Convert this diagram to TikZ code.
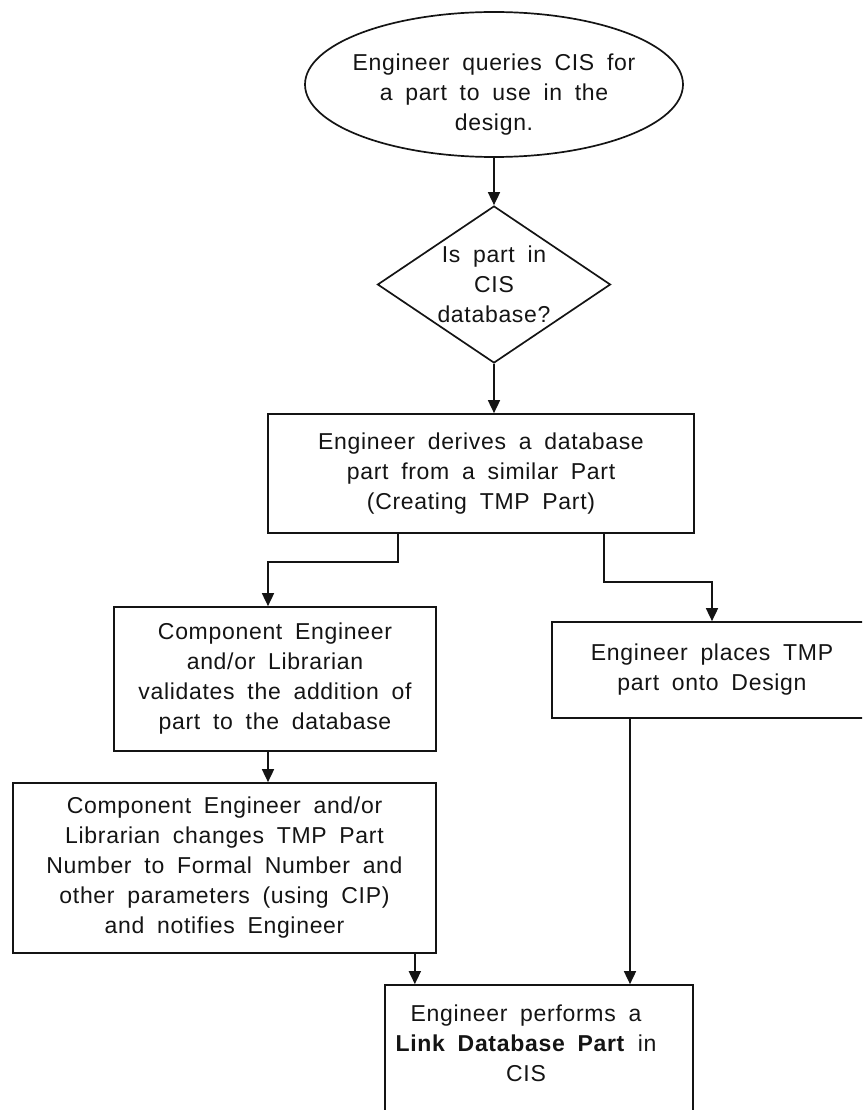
\documentclass[tikz,border=0pt]{standalone}
\usepackage{fontspec}
\setmainfont{Liberation Sans}[LetterSpace=3,WordSpace=1.8]
\usetikzlibrary{arrows.meta,positioning,shapes.geometric}
\definecolor{flowink}{HTML}{141414}

\begin{document}
\begin{tikzpicture}[x=1pt, y=-1pt,
  flowtext/.style={align=center, text=flowink, font=\fontsize{23}{30}\selectfont},
  stepbox/.style={flowtext, draw=flowink, rectangle, inner sep=0pt, line width=1.7pt},
  startoval/.style={flowtext, draw=flowink, ellipse, inner ysep=0pt, inner xsep=-20pt, line width=1.7pt},
  decision/.style={flowtext, draw=flowink, diamond, aspect=1.48, inner sep=0pt, line width=1.7pt},
  arr/.style={-{Triangle[length=13pt, width=12pt]}, line width=1.7pt, draw=flowink}
]
  \useasboundingbox (0,0) rectangle (862,1110);
  \clip (0,0) rectangle (862,1110);

  \node[startoval, minimum width=378pt, minimum height=145pt] (query) at (494,84.5)
    {\rule{0pt}{37pt}Engineer queries CIS for\\a part to use in the\\design.};
  \node[decision, minimum width=233pt, minimum height=157pt] (isin) at (494,284.5)
    {Is part in\\CIS\\database?};
  \node[stepbox, minimum width=426pt, minimum height=119pt] (derive) at (481,473.5)
    {Engineer derives a database\\part from a similar Part\\(Creating TMP Part)};
  \node[stepbox, minimum width=322pt, minimum height=144pt] (validate) at (275,679)
    {Component Engineer\\and/or Librarian\\validates the addition of\\part to the database};
  \node[stepbox, minimum width=423pt, minimum height=170pt] (changes) at (224.5,868)
    {Component Engineer and/or\\Librarian changes TMP Part\\Number to Formal Number and\\other parameters (using CIP)\\and notifies Engineer};
  \node[stepbox, minimum width=320pt, minimum height=96pt] (places) at (712,670)
    {Engineer places TMP\\part onto Design};
  \node[stepbox, minimum width=308pt, minimum height=150pt] (link) at (539,1060) {};
  \node[flowtext] (linktext) at (526,1043)
    {Engineer performs a\\\textbf{Link Database Part} in\\CIS};

  \draw[arr] (query) -- (isin);
  \draw[arr] (isin) -- (isin.south |- derive.north);
  \draw[arr] ([xshift=-83pt]derive.south) -- ++(0,28) -| ([xshift=-7pt]validate.north);
  \draw[arr] ([xshift=123pt]derive.south) -- ++(0,48) -| (places.north);
  \draw[arr] ([xshift=-7pt]validate.south) -- ([xshift=-7pt]validate.south |- changes.north);
  \draw[arr] ([xshift=-22pt]changes.south east) -- ([xshift=-22pt]changes.south east |- link.north);
  \draw[arr] ([xshift=-82pt]places.south) -- ([xshift=-82pt]places.south |- link.north);
\end{tikzpicture}
\end{document}
